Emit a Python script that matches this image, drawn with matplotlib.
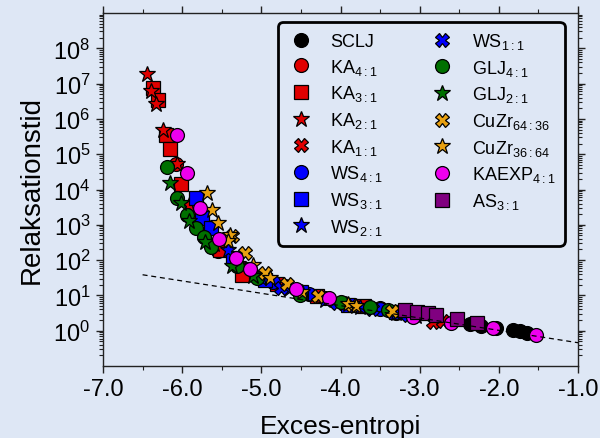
import numpy as np
import matplotlib
matplotlib.use("Agg")
import matplotlib.pyplot as plt
from matplotlib.ticker import LogLocator, FixedLocator, NullFormatter, MultipleLocator

plt.rcParams['font.family'] = ['Liberation Sans', 'DejaVu Sans']
plt.rcParams['mathtext.default'] = 'regular'

BG = '#dee7f5'

# ---- data (excess entropy S, relaxation time tau) ----
sclj_S = [-2.36, -2.22, -2.03, -1.82, -1.73, -1.65]
sclj_t = [1.58, 1.35, 1.2, 1.02, 1.0, 0.87]

ka41_S = [-6.08, -5.85, -5.55, -5.2, -4.7, -4.2, -3.5, -3.3]
ka41_t = [5.4e4, 1.6e3, 178, 52, 18.6, 8.5, 4.4, 3.2]

ka31_S = [-6.37, -6.31, -6.21, -6.15, -6.01, -5.52, -5.25, -4.8, -4.3, -3.7]
ka31_t = [7.4e6, 3.5e6, 3.4e5, 1.4e5, 1.4e4, 195, 39, 21, 9.5, 5.0]

ka21_S = [-6.44, -6.39, -6.33, -6.24, -6.07, -5.91, -5.6, -5.3]
ka21_t = [1.9e7, 6.3e6, 2.6e6, 4.9e5, 5.4e4, 3.6e3, 280, 79]

ka11_S = [-2.83, -2.70]
ka11_t = [1.74, 1.86]

ws41_S = [-5.35, -4.85, -4.4, -3.95, -3.5, -3.1]
ws41_t = [89, 24, 11, 6.0, 4.2, 3.2]

ws31_S = [-5.83, -5.75, -5.64, -5.36, -4.95, -4.5, -3.9, -3.3]
ws31_t = [5.9e3, 1.6e3, 800, 115, 28, 12.6, 5.5, 3.3]

ws21_S = [-5.42, -5.0, -4.65, -4.2, -3.75, -3.3, -3.05]
ws21_t = [195, 32, 15, 7.6, 4.8, 3.2, 2.6]

ws11_S = [-4.75, -4.05, -3.6, -3.15]
ws11_t = [16.6, 6.0, 4.0, 2.8]

glj41_S = [-6.19, -6.06, -5.94, -5.83, -5.73, -5.64, -5.31, -5.06, -4.51, -3.99, -3.63, -3.40]
glj41_t = [4.4e4, 5.6e3, 1.9e3, 790, 440, 230, 66, 32, 10.5, 6.6, 4.7, 3.8]

glj21_S = [-6.15, -6.02, -5.91, -5.71, -5.37, -5.10]
glj21_t = [1.5e4, 4.1e3, 1.3e3, 316, 66, 35]

cu6436_S = [-5.37, -5.21, -4.95, -4.68, -4.29, -3.86, -3.35]
cu6436_t = [470, 160, 43, 21, 9.8, 5.2, 3.5]

cu3664_S = [-5.69, -5.62, -5.55, -5.40, -5.42, -5.10, -4.89, -4.49, -3.90, -3.80]
cu3664_t = [8.1e3, 2.6e3, 1.1e3, 500, 340, 74, 31, 12.6, 5.8, 5.0]

kaexp_S = [-6.06, -5.94, -5.78, -5.54, -5.32, -5.14, -4.56, -4.15, -3.08, -2.60, -2.08, -1.53]
kaexp_t = [3.5e5, 3.0e4, 3.0e3, 390, 115, 56, 15, 8.5, 2.45, 1.68, 1.16, 0.74]

as31_S = [-3.19, -3.04, -2.90, -2.79, -2.53, -2.27]
as31_t = [3.8, 3.4, 3.1, 2.7, 2.2, 1.68]

# fitted line tau = a * exp(-b * S)
fit_a = 0.204
fit_b = 0.806
fit_range = [-6.5, -1.0]

xticks = [-7.0, -6.0, -5.0, -4.0, -3.0, -2.0, -1.0]
yticks_exp = [0, 1, 2, 3, 4, 5, 6, 7, 8]

series = [
    ('SCLJ', sclj_S, sclj_t, 'o', 'black', 10),
    ('KA$_{4:1}$', ka41_S, ka41_t, 'o', '#e00000', 10),
    ('KA$_{3:1}$', ka31_S, ka31_t, 's', '#e00000', 9.5),
    ('KA$_{2:1}$', ka21_S, ka21_t, '*', '#e00000', 12),
    ('KA$_{1:1}$', ka11_S, ka11_t, 'X', '#e00000', 10),
    ('WS$_{4:1}$', ws41_S, ws41_t, 'o', '#0000ff', 10),
    ('WS$_{3:1}$', ws31_S, ws31_t, 's', '#0000ff', 9.5),
    ('WS$_{2:1}$', ws21_S, ws21_t, '*', '#0000ff', 12),
    ('WS$_{1:1}$', ws11_S, ws11_t, 'X', '#0000ff', 10),
    ('GLJ$_{4:1}$', glj41_S, glj41_t, 'o', '#007000', 10),
    ('GLJ$_{2:1}$', glj21_S, glj21_t, '*', '#007000', 12),
    ('CuZr$_{64:36}$', cu6436_S, cu6436_t, 'X', '#e8a010', 10),
    ('CuZr$_{36:64}$', cu3664_S, cu3664_t, '*', '#e8a010', 12),
    ('KAEXP$_{4:1}$', kaexp_S, kaexp_t, 'o', '#ee00ee', 10),
    ('AS$_{3:1}$', as31_S, as31_t, 's', '#800080', 9.5),
]

fig = plt.figure(figsize=(6.0, 4.39), dpi=100, facecolor=BG)
ax = fig.add_axes([103/600, 1-367/439, 475/600, 353/439], facecolor=BG)

for i, (lab, S, t, m, c, ms) in enumerate(series):
    ax.plot(S, t, linestyle='none', marker=m, markersize=ms, markerfacecolor=c,
            markeredgecolor='black', markeredgewidth=0.9, label=lab, zorder=3+i*0.01)

fx = np.linspace(fit_range[0], fit_range[1], 50)
ax.plot(fx, fit_a*np.exp(-fit_b*fx), color='black', linestyle=(0, (4, 3)), linewidth=0.9, zorder=10)

ax.set_yscale('log')
ax.set_xlim(-7.0, -1.0)
ax.set_ylim(1e-1, 1e9)
ax.xaxis.set_major_locator(FixedLocator(xticks))
ax.xaxis.set_minor_locator(MultipleLocator(0.5))
ax.set_xticklabels(['%.1f' % v for v in xticks])
ax.yaxis.set_major_locator(FixedLocator([10.0**e for e in yticks_exp]))
ax.set_yticklabels(['$10^{%d}$' % e for e in yticks_exp])
ax.yaxis.set_minor_locator(LogLocator(base=10, subs=np.arange(2, 10), numticks=20))
ax.yaxis.set_minor_formatter(NullFormatter())

ax.tick_params(which='both', direction='out', top=True, right=True, labelsize=17, color='#222222')
ax.tick_params(which='major', length=5, width=1, pad=4)
ax.tick_params(which='minor', length=3, width=0.8)
for sp in ax.spines.values():
    sp.set_color('#222222')
    sp.set_linewidth(1.0)

ax.set_xlabel('Exces-entropi', fontsize=19, labelpad=10)
ax.set_ylabel('Relaksationstid', fontsize=20, labelpad=6)

leg = ax.legend(ncol=2, loc='upper left', bbox_to_anchor=(278/600, 1-23/439),
                bbox_transform=fig.transFigure, borderaxespad=0, fontsize=13,
                frameon=True, facecolor=BG, edgecolor='black', framealpha=1,
                labelspacing=0.37, handletextpad=0.87, columnspacing=2.55,
                borderpad=0.5, handlelength=1.5)
leg.get_frame().set_linewidth(2.0)
leg.get_frame().set_boxstyle('round', pad=0, rounding_size=0.3)
leg.set_zorder(20)

fig.savefig('out.png', dpi=100, facecolor=BG)
